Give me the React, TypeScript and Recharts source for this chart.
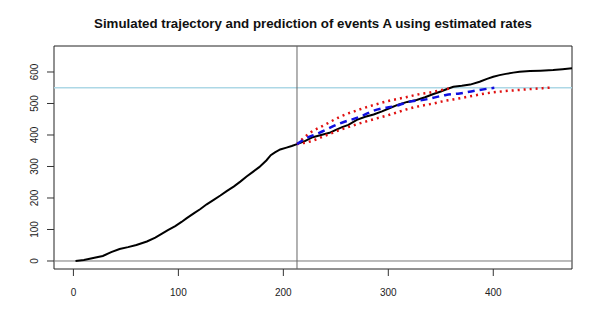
import React from "react";
import {
  LineChart,
  Line,
  XAxis,
  YAxis,
  ReferenceLine,
  ReferenceArea,
} from "recharts";

// observed simulated trajectory
const trajX = [2, 10, 20, 28, 36, 44, 52, 60, 70, 78, 84, 90, 97, 103, 108, 115, 121, 127, 134, 140, 146, 153, 159, 165, 171, 177, 184, 188, 192, 197, 203, 208, 213, 220, 228, 236, 244, 250, 256, 262, 270, 278, 286, 294, 301, 310, 318, 327, 335, 343, 350, 356, 362, 370, 378, 387, 394, 400, 406, 412, 419, 425, 435, 445, 457, 466, 475];
const trajY = [0, 3, 10, 16, 28, 38, 44, 51, 62, 74, 86, 98, 111, 124, 136, 152, 165, 180, 195, 208, 222, 237, 252, 268, 283, 298, 320, 336, 345, 354, 360, 365, 371, 380, 393, 400, 407, 416, 425, 432, 448, 458, 465, 475, 485, 497, 505, 511, 520, 530, 538, 546, 553, 556, 560, 569, 578, 585, 590, 594, 598, 601, 603, 604, 606, 609, 612];

// predicted mean
const meanX = [213, 225, 230, 254, 273, 286, 311, 317, 336, 355, 368, 387, 401];
const meanY = [371, 395, 401, 437, 458, 477, 496, 503, 513, 527, 532, 543, 550];

// upper band
const upperX = [213, 225, 240, 254, 270, 286, 300, 317, 330, 340, 350, 360];
const upperY = [371, 406, 433, 458, 478, 495, 508, 520, 530, 535, 542, 549];

// lower band
const lowerX = [213, 225, 240, 254, 270, 286, 300, 317, 330, 340, 355, 362, 380, 393, 410, 425, 440, 457];
const lowerY = [371, 379, 398, 416, 434, 450, 463, 481, 492, 498, 509, 513, 524, 532, 539, 543, 547, 551];

const xTicks = [0, 100, 200, 300, 400];
const yTicks = [0, 100, 200, 300, 400, 500, 600];

const target = 550;
const cutoff = 213;

const zip = (xs: number[], ys: number[]) => xs.map((x, i) => ({ x, y: ys[i] }));

const font = "Liberation Sans, Arial, sans-serif";

const YTick = ({ x, y, payload }: any) => (
  <g transform={`translate(${x - 7},${y}) rotate(-90)`}>
    <text textAnchor="middle" fontSize={10} fill="#222" fontFamily={font}>
      {payload.value}
    </text>
  </g>
);

export default function App() {
  const xDomain = [-18.5, 475];
  const yDomain = [-25.4, 682.5];

  return (
    <div style={{ position: "relative", width: 599, height: 327, background: "#fff" }}>
      <style>{`body{margin:0}`}</style>
      <div
        style={{
          position: "absolute",
          top: 16,
          left: 40,
          width: 546,
          textAlign: "center",
          fontFamily: font,
          fontWeight: "bold",
          fontSize: 13.3,
          lineHeight: "16px",
          color: "#111",
          whiteSpace: "nowrap",
        }}
      >
        Simulated trajectory and prediction of events A using estimated rates
      </div>
      <LineChart width={599} height={327} margin={{ top: 46, right: 27, left: 0, bottom: 0 }}>
        <XAxis
          type="number"
          dataKey="x"
          domain={xDomain}
          ticks={xTicks}
          allowDataOverflow
          height={58}
          tickSize={7}
          tickMargin={13}
          axisLine={false}
          tickLine={{ stroke: "#333" }}
          tick={{ fontSize: 10, fill: "#222", fontFamily: font }}
        />
        <YAxis
          type="number"
          dataKey="y"
          domain={yDomain}
          ticks={yTicks}
          allowDataOverflow
          width={54}
          tickSize={7}
          axisLine={false}
          tickLine={{ stroke: "#333" }}
          tick={<YTick />}
        />
        <ReferenceArea
          x1={xDomain[0]}
          x2={xDomain[1]}
          y1={yDomain[0]}
          y2={yDomain[1]}
          fill="none"
          stroke="#222"
          strokeWidth={1}
        />
        <ReferenceLine y={0} stroke="#777" strokeWidth={1} />
        <ReferenceLine y={target} stroke="#ADD8E6" strokeWidth={1.5} />
        <ReferenceLine x={cutoff} stroke="#666" strokeWidth={1} />
        <Line
          data={zip(trajX, trajY)}
          dataKey="y"
          type="linear"
          stroke="#000"
          strokeWidth={2}
          dot={false}
          isAnimationActive={false}
        />
        <Line
          data={zip(upperX, upperY)}
          dataKey="y"
          type="monotone"
          stroke="#E01010"
          strokeWidth={2.5}
          strokeDasharray="2 4"
          dot={false}
          isAnimationActive={false}
        />
        <Line
          data={zip(lowerX, lowerY)}
          dataKey="y"
          type="monotone"
          stroke="#E01010"
          strokeWidth={2.5}
          strokeDasharray="2 4"
          dot={false}
          isAnimationActive={false}
        />
        <Line
          data={zip(meanX, meanY)}
          dataKey="y"
          type="monotone"
          stroke="#1010E0"
          strokeWidth={2.5}
          strokeDasharray="7 5"
          dot={false}
          isAnimationActive={false}
        />
      </LineChart>
    </div>
  );
}
